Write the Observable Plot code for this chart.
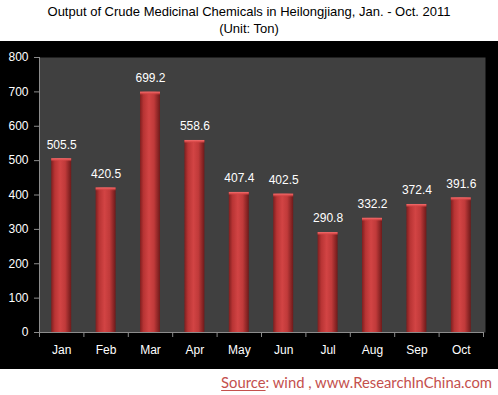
<!DOCTYPE html>
<html>
<head>
<meta charset="utf-8">
<script src="https://cdn.jsdelivr.net/npm/d3@7"></script>
<script src="https://cdn.jsdelivr.net/npm/@observablehq/plot@0.6"></script>
<style>
  html, body { margin: 0; padding: 0; background: #fff; width: 498px; height: 395px; overflow: hidden; }
  #title { height: 41px; text-align: center; font-family: "Liberation Sans", Arial, sans-serif; color: #000; font-size: 13px; line-height: 17px; padding-top: 3px; box-sizing: border-box; }
  #chart { height: 328px; background: #000; }
  #chart svg { display: block; }
  #source { text-align: right; padding-right: 6px; font-family: "Lato", "Liberation Sans", sans-serif; font-size: 14.8px; color: #c4504d; line-height: 26px; }
  #source u { text-decoration-thickness: 1px; text-underline-offset: 2px; }
</style>
</head>
<body>
<div id="title">Output of Crude Medicinal Chemicals in Heilongjiang, Jan. - Oct. 2011<br>(Unit: Ton)</div>
<div id="chart"></div>
<div id="source"><u>Source</u>: wind , www.ResearchInChina.com</div>
<script>
const months = ["Jan","Feb","Mar","Apr","May","Jun","Jul","Aug","Sep","Oct"];
const values = [505.5, 420.5, 699.2, 558.6, 407.4, 402.5, 290.8, 332.2, 372.4, 391.6];
const yTicks = [0, 100, 200, 300, 400, 500, 600, 700, 800];

const data = months.map((m, i) => ({month: m, i, value: values[i]}));

const plot = Plot.plot({
  width: 498,
  height: 328,
  marginTop: 16,
  marginBottom: 37,
  marginLeft: 39,
  marginRight: 15,
  style: {background: "#000", color: "#fff", fontFamily: "'Liberation Sans', Arial, sans-serif", fontSize: "12px"},
  x: {type: "linear", domain: [0, months.length], axis: null},
  y: {domain: [0, 800], axis: null},
  marks: [
    Plot.frame({fill: "#404040", stroke: null, insetRight: -2}),
    Plot.rectY(data, {x1: d => d.i, x2: d => d.i + 1, y: "value", insetLeft: 12.2, insetRight: 12.2, fill: "url(#barGrad)"}),
    Plot.rectY(data, {x1: d => d.i, x2: d => d.i + 1, y1: d => d.value, y2: d => d.value - 10, insetLeft: 12.2, insetRight: 12.2, fill: "url(#capGrad)"}),
    Plot.text(data, {x: d => d.i + 0.5, y: "value", text: d => d.value.toFixed(1), dy: -14, fill: "#fff", fontSize: 12}),
    Plot.axisY({ticks: yTicks, tickSize: 5, tickPadding: 6, stroke: "#8c8c8c", fill: "#fff", fontSize: 12, label: null}),
    Plot.axisX({ticks: d3.range(0, months.length + 1), tickSize: 5, tickFormat: () => "", stroke: "#8c8c8c", label: null}),
    Plot.axisX({ticks: months.map((m, i) => i + 0.5), tickSize: 0, tickPadding: 13, tickFormat: t => months[Math.round(t - 0.5)], fill: "#fff", fontSize: 12, label: null}),
    Plot.ruleY([0], {stroke: "#8c8c8c", strokeWidth: 1}),
    Plot.ruleX([0], {stroke: "#8c8c8c", strokeWidth: 1})
  ]
});

const ns = "http://www.w3.org/2000/svg";
const defs = document.createElementNS(ns, "defs");
defs.innerHTML = `
  <linearGradient id="barGrad" x1="0" x2="1" y1="0" y2="0">
    <stop offset="0" stop-color="#7e1f1f"/>
    <stop offset="0.18" stop-color="#b83434"/>
    <stop offset="0.45" stop-color="#d24444"/>
    <stop offset="0.7" stop-color="#c03a3a"/>
    <stop offset="1" stop-color="#6e1a1a"/>
  </linearGradient>
  <linearGradient id="capGrad" x1="0" x2="0" y1="0" y2="1">
    <stop offset="0" stop-color="#f07070"/>
    <stop offset="0.4" stop-color="#e05050"/>
    <stop offset="1" stop-color="#c43c3c" stop-opacity="0"/>
  </linearGradient>`;
plot.insertBefore(defs, plot.firstChild);
document.getElementById("chart").appendChild(plot);
</script>
</body>
</html>
